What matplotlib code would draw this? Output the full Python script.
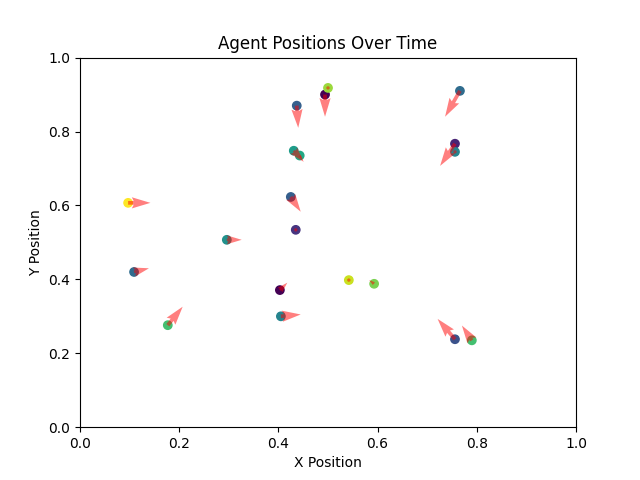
import matplotlib
matplotlib.use("Agg")
import matplotlib.pyplot as plt
import numpy as np

x = [0.437, 0.494, 0.500, 0.766, 0.756, 0.756, 0.431, 0.443, 0.425, 0.435,
     0.097, 0.296, 0.109, 0.403, 0.542, 0.593, 0.405, 0.177, 0.756, 0.790]
y = [0.870, 0.900, 0.918, 0.910, 0.767, 0.745, 0.748, 0.735, 0.623, 0.534,
     0.607, 0.507, 0.420, 0.371, 0.398, 0.388, 0.300, 0.276, 0.238, 0.235]
dx = [0.003, 0.000, 0.000, -0.030, -0.030, 0.000, 0.020, 0.005, 0.020, 0.000,
      0.045, 0.030, 0.030, 0.015, 0.000, -0.010, 0.040, 0.030, -0.035, -0.020]
dy = [-0.060, -0.060, -0.005, -0.070, -0.060, -0.005, -0.030, -0.010, -0.040, 0.000,
      0.000, 0.000, 0.010, 0.020, 0.005, 0.010, 0.005, 0.050, 0.055, 0.040]
c = [0.30, 0.00, 0.85, 0.35, 0.10, 0.45, 0.55, 0.60, 0.30, 0.15,
     1.00, 0.50, 0.35, 0.00, 0.92, 0.80, 0.45, 0.70, 0.25, 0.70]

fig, ax = plt.subplots(figsize=(6.4, 4.8))
ax.scatter(x, y, c=c, cmap="viridis")
ax.quiver(x, y, dx, dy, color="red", alpha=0.5, angles="xy", scale_units="xy", scale=1)
ax.set_xlim(0, 1)
ax.set_ylim(0, 1)
ax.set_xlabel("X Position")
ax.set_ylabel("Y Position")
ax.set_title("Agent Positions Over Time")
plt.savefig("out.png", dpi=100)
